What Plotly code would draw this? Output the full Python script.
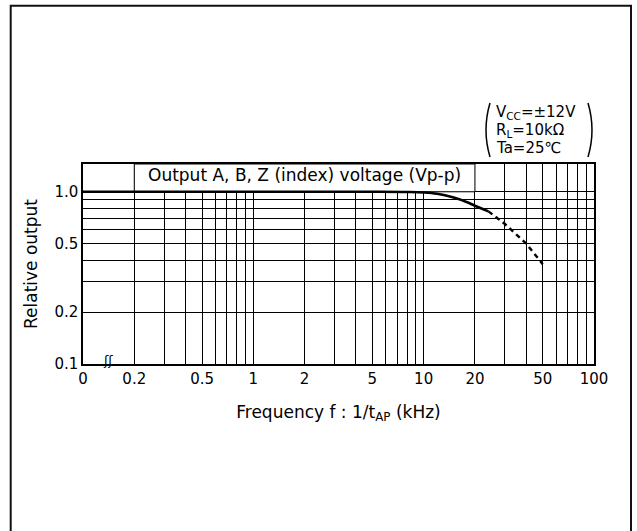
import math
import plotly.graph_objects as go

# ---- data ----
freq_solid = [0.1, 0.2, 0.5, 1, 2, 5, 8, 10, 12, 15, 18, 20, 24]
out_solid = [1.0, 1.0, 1.0, 1.0, 1.0, 1.0, 0.997, 0.99, 0.973, 0.925, 0.87, 0.83, 0.77]
freq_dash = [24, 30, 40, 50]
out_dash = [0.77, 0.65, 0.5, 0.38]

x_tick_vals = [0.1, 0.2, 0.5, 1, 2, 5, 10, 20, 50, 100]
x_tick_text = ["0", "0.2", "0.5", "1", "2", "5", "10", "20", "50", "100"]
x_grid_vals = [0.3, 0.4, 0.6, 0.7, 0.8, 0.9, 3, 4, 6, 7, 8, 9, 30, 40, 60, 70, 80, 90]
y_tick_vals = [0.1, 0.2, 0.5, 1.0]
y_tick_text = ["0.1", "0.2", "0.5", "1.0"]
y_grid_vals = [0.3, 0.4, 0.6, 0.7, 0.8, 0.9]

box_title = "Output A, B, Z (index) voltage (Vp-p)"
conditions = ["V<sub>CC</sub>=±12V", "R<sub>L</sub>=10kΩ", "Ta=25℃"]

FONT = "DejaVu Sans, Liberation Sans, Arial, sans-serif"
W, H = 637, 531
ML, MR, MT, MB = 83, 43, 164, 167
PW, PH = W - ML - MR, H - MT - MB
Y_TOP = 1.45


def px(x):
    return (x - ML) / PW


def py(y):
    return (H - MB - y) / PH


fig = go.Figure()
fig.add_trace(go.Scatter(x=freq_solid, y=out_solid, mode="lines",
                         line=dict(color="black", width=2.6, shape="spline"),
                         showlegend=False, hoverinfo="skip"))
fig.add_trace(go.Scatter(x=freq_dash, y=out_dash, mode="lines",
                         line=dict(color="black", width=2.4, dash="5px,4px"),
                         showlegend=False, hoverinfo="skip"))

axis_common = dict(showline=True, mirror=True, linecolor="black", linewidth=1.5,
                   showgrid=True, gridcolor="black", gridwidth=1,
                   zeroline=False, ticks="", tickfont=dict(size=15, color="black", family=FONT))

fig.update_xaxes(type="log", range=[-1, 2], tickmode="array",
                 tickvals=x_tick_vals, ticktext=x_tick_text,
                 minor=dict(tickmode="array", tickvals=x_grid_vals, showgrid=True,
                            gridcolor="black", gridwidth=1, ticks=""),
                 title=dict(text="Frequency f : 1/t<sub>AP</sub> (kHz)",
                            font=dict(size=17, color="black", family=FONT), standoff=19),
                 **axis_common)
fig.update_yaxes(type="log", range=[-1, math.log10(Y_TOP)], tickmode="array",
                 tickvals=y_tick_vals, ticktext=y_tick_text,
                 minor=dict(tickmode="array", tickvals=y_grid_vals, showgrid=True,
                            gridcolor="black", gridwidth=1, ticks=""),
                 title=dict(text="Relative output",
                            font=dict(size=17, color="black", family=FONT), standoff=12),
                 **axis_common)

shapes = [
    # white title box covering the grid
    dict(type="rect", xref="x", yref="y", x0=0.2, x1=20, y0=1.0, y1=Y_TOP,
         fillcolor="white", line=dict(color="black", width=1), layer="between"),
    # outer frame (open at bottom)
    dict(type="path", xref="paper", yref="paper",
         path=f"M {px(10.7)},{py(540)} L {px(10.7)},{py(5.7)} L {px(631)},{py(5.7)} L {px(631)},{py(540)}",
         line=dict(color="#111", width=2)),
    # parentheses around the conditions
    dict(type="path", xref="paper", yref="paper",
         path=f"M {px(490)},{py(103)} Q {px(482)},{py(130)} {px(490)},{py(157)}",
         line=dict(color="black", width=1.5)),
    dict(type="path", xref="paper", yref="paper",
         path=f"M {px(588)},{py(103)} Q {px(596)},{py(130)} {px(588)},{py(157)}",
         line=dict(color="black", width=1.5)),
]

annotations = [
    dict(x=(math.log10(0.2) + math.log10(20)) / 2, y=math.log10(Y_TOP) / 2 + 0.015,
         xref="x", yref="y", text=box_title, showarrow=False,
         font=dict(size=17, color="black", family=FONT)),
    dict(x=px(101), y=py(360), xref="paper", yref="paper", text="ʃʃ", showarrow=False,
         font=dict(size=13, color="black", family=FONT), yanchor="middle"),
]
for i, c in enumerate(conditions):
    annotations.append(dict(x=px(494), y=py(112 + 18 * i), xref="paper", yref="paper",
                            text=c, showarrow=False, xanchor="left", yanchor="middle",
                            font=dict(size=15, color="black", family=FONT)))

fig.update_layout(width=W, height=H, margin=dict(l=ML, r=MR, t=MT, b=MB, autoexpand=False),
                  paper_bgcolor="white", plot_bgcolor="white",
                  shapes=shapes, annotations=annotations, showlegend=False,
                  font=dict(family=FONT, color="black"))
fig.write_html("out.html")
